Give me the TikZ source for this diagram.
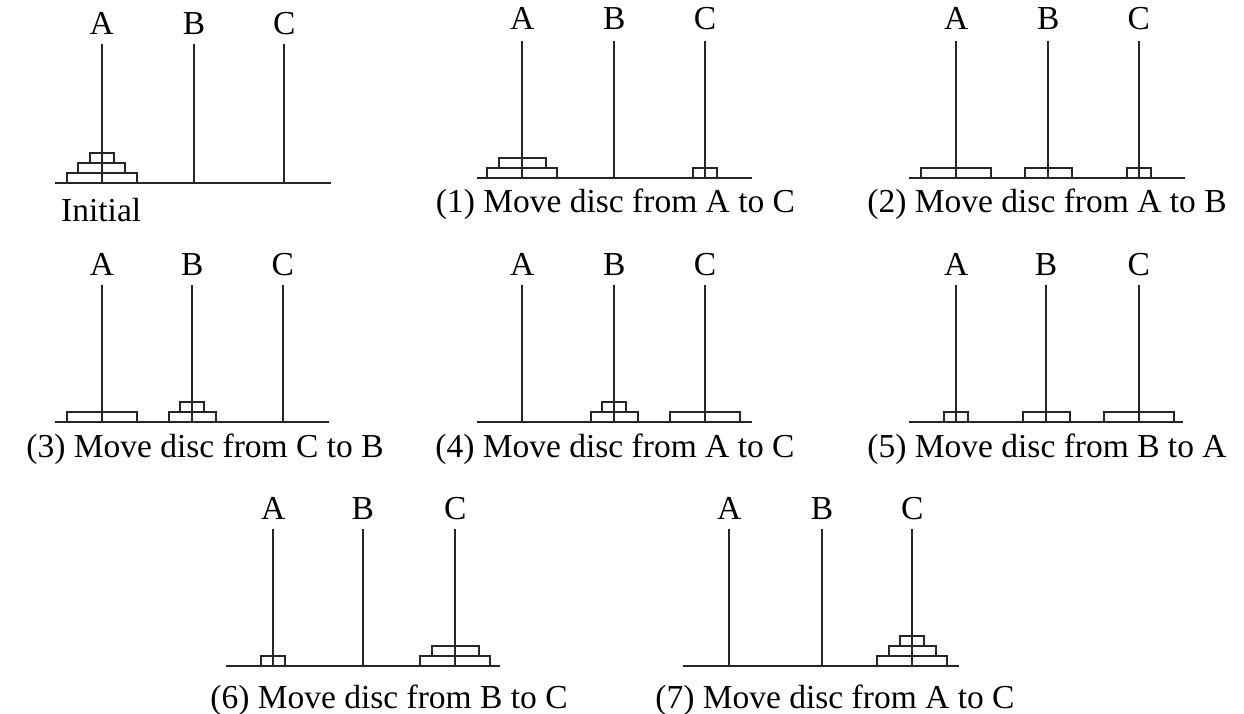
\documentclass[tikz,border=0pt]{standalone}
\usepackage{fontspec}
\setmainfont{Liberation Serif}
\usetikzlibrary{calc}
\tikzset{
  lbl/.style={anchor=base,inner sep=0pt,font=\fontsize{33.5}{40}\selectfont},
  captxt/.style={anchor=base,inner sep=0pt,font=\fontsize{33.5}{40}\selectfont},
  peg/.style={line width=2pt,draw=black!85},
  disc/.style={line width=2pt,draw=black!85}
}
\newcommand\hpanel[9]{%
  \foreach \l/\x in {A/#2,B/#3,C/#4}{%
    \node[lbl] (#1\l) at (\x,#5) {\l};
    \coordinate (#1\l-t) at (\x,#6);
    \coordinate (#1\l-b) at (\x,#7);
    \draw[peg] (#1\l-t) -- (#1\l-b);
  }%
  \coordinate (#1L) at (#8,#7);
  \coordinate (#1R) at (#9,#7);
  \draw[peg] (#1L) -- (#1R);
}
\newcommand\hdisc[4]{%
  \draw[disc] ($(#1#2-b)+(-#4,-10*#3)$) rectangle ($(#1#2-b)+(#4,-10*#3-10)$);
}
\begin{document}
\begin{tikzpicture}[x=1pt,y=-1pt]
\useasboundingbox (0,0) rectangle (1244,714);
% row 1
\hpanel{p0}{101.7}{194}{284.3}{35}{44.3}{182.7}{55}{331}
\hdisc{p0}{A}{0}{35}\hdisc{p0}{A}{1}{23.5}\hdisc{p0}{A}{2}{12}
\node[captxt,anchor=base west] (c0) at (61,221) {Initial};

\hpanel{p1}{522.3}{614.3}{705}{30}{40.7}{177.7}{477}{751.7}
\hdisc{p1}{A}{0}{35}\hdisc{p1}{A}{1}{23.5}\hdisc{p1}{C}{0}{12}
\node[captxt] (c1) at (615.5,212) {(1) Move disc from A to C};

\hpanel{p2}{956.3}{1048.3}{1138.7}{30}{40.7}{177.7}{909.3}{1185}
\hdisc{p2}{A}{0}{35}\hdisc{p2}{B}{0}{23.5}\hdisc{p2}{C}{0}{12}
\node[captxt] (c2) at (1047,212) {(2) Move disc from A to B};

% row 2
\hpanel{p3}{102}{192.3}{282.7}{275}{285}{421.7}{55}{329}
\hdisc{p3}{A}{0}{35}\hdisc{p3}{B}{0}{23.5}\hdisc{p3}{B}{1}{12}
\node[captxt] (c3) at (205,457) {(3) Move disc from C to B};

\hpanel{p4}{522.3}{614.3}{705}{275}{285}{421.7}{477.3}{751.7}
\hdisc{p4}{B}{0}{23.5}\hdisc{p4}{B}{1}{12}\hdisc{p4}{C}{0}{35}
\node[captxt] (c4) at (615,457) {(4) Move disc from A to C};

\hpanel{p5}{956.3}{1046}{1138.7}{275}{285}{421.7}{909.3}{1183.3}
\hdisc{p5}{A}{0}{12}\hdisc{p5}{B}{0}{23.5}\hdisc{p5}{C}{0}{35}
\node[captxt] (c5) at (1047,457) {(5) Move disc from B to A};

% row 3
\hpanel{p6}{273.3}{362.7}{455.3}{519}{529.3}{666}{226}{500}
\hdisc{p6}{A}{0}{12}\hdisc{p6}{C}{0}{35}\hdisc{p6}{C}{1}{23.5}
\node[captxt] (c6) at (389,708) {(6) Move disc from B to C};

\hpanel{p7}{729.3}{822}{912.3}{519}{529.3}{666}{683.3}{959}
\hdisc{p7}{C}{0}{35}\hdisc{p7}{C}{1}{23.5}\hdisc{p7}{C}{2}{12}
\node[captxt] (c7) at (835,708) {(7) Move disc from A to C};
\end{tikzpicture}
\end{document}
